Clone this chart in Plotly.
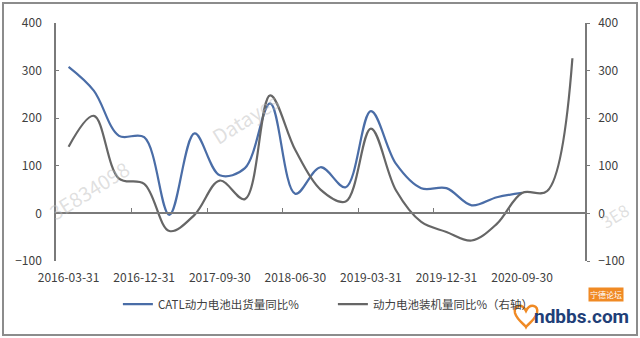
import plotly.graph_objects as go

categories = ["2016-03-31", "2016-06-30", "2016-09-30", "2016-12-31",
              "2017-03-31", "2017-06-30", "2017-09-30", "2017-12-31",
              "2018-03-31", "2018-06-30", "2018-09-30", "2018-12-31",
              "2019-03-31", "2019-06-30", "2019-09-30", "2019-12-31",
              "2020-03-31", "2020-06-30", "2020-09-30", "2020-12-31",
              "2021-03-31"]

catl_yoy = [308, 258, 163, 160, -3, 168, 80, 95, 231, 41, 97, 55,
            215, 104, 53, 53, 17, 34, 43]

install_yoy = [140, 205, 73, 62, -37, -3, 69, 30, 248, 133, 50, 25,
               178, 48, -18, -39, -57, -22, 43, 47, 326]

tick_labels = ["2016-03-31", "2016-12-31", "2017-09-30", "2018-06-30",
               "2019-03-31", "2019-12-31", "2020-09-30"]

BLUE = "#4A6DA7"
GRAY = "#666666"
AX = "#7a7a7a"
FONT = "Noto Sans CJK SC, Open Sans, sans-serif"

# plot-area geometry in pixels (used only for decorations outside the data)
L, R, T, B = 56, 585, 23, 261


def px(x):
    return (x - L) / (R - L)


def py(y):
    return (B - y) / (B - T)


x_idx = list(range(len(categories)))
tick_pos = [categories.index(t) for t in tick_labels]

fig = go.Figure()
fig.add_trace(go.Scatter(
    x=x_idx[:len(catl_yoy)], y=catl_yoy, name="CATL动力电池出货量同比%",
    mode="lines", line=dict(color=BLUE, width=2.2, shape="spline", smoothing=1.0),
))
fig.add_trace(go.Scatter(
    x=x_idx, y=install_yoy, name="动力电池装机量同比%（右轴）",
    mode="lines", line=dict(color=GRAY, width=2.2, shape="spline", smoothing=1.0),
    yaxis="y2",
))
# invisible trace hosting the tick-only x axis at the zero line
fig.add_trace(go.Scatter(x=x_idx, y=[0] * len(x_idx), xaxis="x2", mode="lines",
                         line=dict(width=0), showlegend=False, hoverinfo="skip"))

n = len(categories)
fig.update_layout(
    width=640, height=338,
    margin=dict(l=L, r=640 - R, t=T, b=338 - B),
    paper_bgcolor="white", plot_bgcolor="white",
    font=dict(family=FONT, size=12, color="#404040"),
    showlegend=True,
    legend=dict(orientation="h", x=0.117, xanchor="left", y=-0.12, yanchor="top",
                font=dict(size=11.5, color="#404040"), entrywidth=170,
                entrywidthmode="pixels", bgcolor="rgba(0,0,0,0)"),
    xaxis=dict(range=[-0.5, n - 0.5], tickmode="array", tickvals=tick_pos,
               ticktext=tick_labels, showgrid=False, zeroline=False,
               showline=False, ticks="", ticklabelstandoff=8,
               tickfont=dict(size=12, color="#404040")),
    xaxis2=dict(range=[-0.5, n - 0.5], overlaying="x", anchor="free", position=0.2,
                tickmode="array", tickvals=[p - 0.5 for p in tick_pos] + [n - 0.5],
                showticklabels=False, ticks="inside", ticklen=5, tickcolor=AX,
                showline=True, linecolor=AX, linewidth=1.5,
                showgrid=False, zeroline=False),
    yaxis=dict(range=[-100, 400], tickvals=[-100, 0, 100, 200, 300, 400],
               showgrid=False, zeroline=False, showline=True, linecolor=AX,
               linewidth=1.5, ticks="inside", ticklen=3, tickcolor=AX,
               ticklabelstandoff=10, tickfont=dict(size=12, color="#404040")),
    yaxis2=dict(range=[-100, 400], tickvals=[-100, 0, 100, 200, 300, 400],
                overlaying="y", side="right", showgrid=False, zeroline=False,
                showline=True, linecolor=AX, linewidth=1.5, ticks="outside",
                ticklen=3, tickcolor=AX, ticklabelstandoff=6,
                tickfont=dict(size=12, color="#404040")),
)

# outer frame
fig.add_shape(type="rect", xref="paper", yref="paper",
              x0=px(3), x1=px(637), y0=py(335), y1=py(3),
              line=dict(color="#8c8c8c", width=2), fillcolor="rgba(0,0,0,0)")

# faint watermarks
WM = "rgba(185,185,185,0.45)"
for txt, cx, cy, fs in [("Datayes", 245, 118, 20), ("3E834098", 88, 190, 20),
                        ("3E8", 614, 215, 17)]:
    fig.add_annotation(text=txt, xref="paper", yref="paper", x=px(cx), y=py(cy),
                       xanchor="center", yanchor="middle",
                       showarrow=False, textangle=-32, font=dict(size=fs, color=WM))


def heart_path():
    pts = [("M", [(526, 311)]),
           ("C", [(522, 303), (513, 305), (515, 313)]),
           ("C", [(517, 320), (525, 325), (526, 327)]),
           ("C", [(527, 325), (535, 320), (537, 313)]),
           ("C", [(539, 305), (530, 303), (526, 311)])]
    s = ""
    for cmd, coords in pts:
        s += cmd + " " + ", ".join(f"{px(a):.5f},{py(b):.5f}" for a, b in coords) + " "
    return s + "Z"


# forum logo overlay
fig.add_shape(type="path", xref="paper", yref="paper", layer="above",
              path=heart_path(), line=dict(color="#f08a24", width=2.5),
              fillcolor="white")
fig.add_annotation(text="<b>ndbbs.com</b>", xref="paper", yref="paper",
                   x=px(581), y=py(316), xanchor="center", yanchor="middle",
                   showarrow=False,
                   font=dict(size=19, color="#1f3f78", family="Roboto"))
fig.add_annotation(text="宁德论坛", xref="paper", yref="paper",
                   x=px(606), y=py(294), xanchor="center", yanchor="middle",
                   showarrow=False, bgcolor="#f08a24", borderpad=1,
                   font=dict(size=8, color="white"))

fig.write_html("out.html")
